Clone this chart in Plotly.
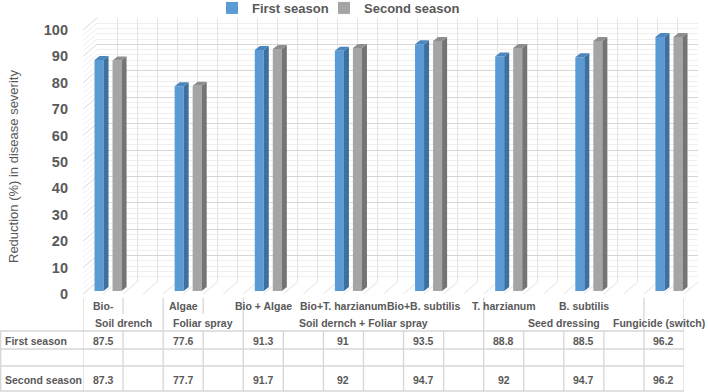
import plotly.graph_objects as go

# ---------------- data ----------------
level1 = ["Bio-", "", "Algae", "", "Bio + Algae", "", "Bio+T. harzianum", "",
          "Bio+B. subtilis", "", "T. harzianum", "", "B. subtilis", "", ""]
group_names = ["Soil drench", "Foliar spray", "Soil dernch + Foliar spray",
               "Seed dressing", "Fungicide (switch)"]
group_start = [0, 2, 4, 10, 14]
group_end = [1, 3, 9, 13, 14]
first_season = [87.5, None, 77.6, None, 91.3, None, 91, None, 93.5, None,
                88.8, None, 88.5, None, 96.2]
second_season = [87.3, None, 77.7, None, 91.7, None, 92, None, 94.7, None,
                 92, None, 94.7, None, 96.2]
series_names = ["First season", "Second season"]
y_ticks = list(range(0, 101, 10))

# ---------------- geometry helpers ----------------
W, H = 708, 392
def X(px):
    return px / W
def Y(py):
    return 1 - py / H

idx = list(range(len(level1)))
TXT = "#595959"
FONT = "Liberation Sans, Arial, sans-serif"

front_col = ["#5B9BD5", "#A5A5A5"]
side_col = ["#3E6F9D", "#747474"]
top_col = ["#4B86BE", "#8E8E8E"]
offsets = [-0.3375, 0.1125]
bw = 0.225
dx = 5 / 40.0
dy = 4 / 2.64
legend_ids = ["legend", "legend2"]

fig = go.Figure()

# back wall subplot (x / y) -- only grid
fig.add_trace(go.Scatter(x=[None], y=[None], xaxis="x", yaxis="y",
                         showlegend=False, hoverinfo="skip"))

# bars (x2 / y2)
for s, vals in enumerate([first_season, second_season]):
    fig.add_trace(go.Bar(
        x=idx, y=vals, width=bw, offset=offsets[s], name=series_names[s],
        marker=dict(color=front_col[s], line=dict(width=0)),
        xaxis="x2", yaxis="y2", legend=legend_ids[s]))
    sx, sy, tx, ty = [], [], [], []
    for i, v in zip(idx, vals):
        if v is None:
            continue
        xl = i + offsets[s]
        xr = xl + bw
        sx += [xr, xr + dx, xr + dx, xr, xr, None]
        sy += [0, dy, v + dy, v, 0, None]
        tx += [xl, xl + dx, xr + dx, xr, xl, None]
        ty += [v, v + dy, v + dy, v, v, None]
    fig.add_trace(go.Scatter(x=sx, y=sy, fill="toself", fillcolor=side_col[s],
                             mode="lines", line=dict(width=0, color=side_col[s]),
                             xaxis="x2", yaxis="y2", showlegend=False, hoverinfo="skip"))
    fig.add_trace(go.Scatter(x=tx, y=ty, fill="toself", fillcolor=top_col[s],
                             mode="lines", line=dict(width=0, color=top_col[s]),
                             xaxis="x2", yaxis="y2", showlegend=False, hoverinfo="skip"))

# table / tick-label subplot (x3 / y3)
fig.add_trace(go.Scatter(x=[None], y=[None], xaxis="x3", yaxis="y3",
                         showlegend=False, hoverinfo="skip"))

shapes = []
# left wall diagonals and floor diagonals (decoration)
for v in range(0, 101, 2):
    major = v % 10 == 0
    shapes.append(dict(type="line", xref="paper", yref="paper",
                       x0=X(83), y0=Y(294 - v * 2.64), x1=X(97), y1=Y(282 - v * 2.64),
                       line=dict(color="#d9d9d9" if major else "#efefef", width=1),
                       layer="below"))
for k in range(31):
    xb = 97 + 20.03 * k
    shapes.append(dict(type="line", xref="paper", yref="paper",
                       x0=X(xb), y0=Y(282), x1=X(xb - 14), y1=Y(294),
                       line=dict(color="#e3e3e3", width=1), layer="below"))

# table lines
LC = "#d6d6d6"
for py in [331, 349, 366, 391]:
    shapes.append(dict(type="line", xref="paper", yref="paper",
                       x0=0, x1=X(684), y0=Y(py), y1=Y(py),
                       line=dict(color=LC, width=1.3)))
shapes.append(dict(type="line", xref="paper", yref="paper",
                   x0=X(0.7), x1=X(0.7), y0=Y(331), y1=Y(391),
                   line=dict(color=LC, width=1.3)))
for i in range(len(level1) + 1):
    shapes.append(dict(type="line", xref="x3", yref="paper",
                       x0=i - 0.5, x1=i - 0.5, y0=Y(331), y1=Y(391),
                       line=dict(color=LC, width=1.3)))
# axis label separators
full_sep = sorted(set([s - 0.5 for s in group_start] + [group_end[-1] + 0.5]))
for xs in full_sep:
    shapes.append(dict(type="line", xref="x3", yref="paper",
                       x0=xs, x1=xs, y0=Y(298), y1=Y(331),
                       line=dict(color=LC, width=1.3)))
for s0, e0 in zip(group_start, group_end):
    if e0 - s0 == 1:
        shapes.append(dict(type="line", xref="x3", yref="paper",
                           x0=s0 + 0.5, x1=s0 + 0.5, y0=Y(298), y1=Y(314),
                           line=dict(color=LC, width=1.3)))

ann = []
f_small = dict(family=FONT, size=10.5, color=TXT, weight="bold")
for i, lab in zip(idx, level1):
    if lab:
        ann.append(dict(x=i, y=Y(306), xref="x3", yref="paper", text=lab,
                        showarrow=False, font=f_small, xanchor="center", yanchor="middle"))
for name, s0, e0 in zip(group_names, group_start, group_end):
    if e0 == len(level1) - 1:
        ann.append(dict(x=X(707), y=Y(323), xref="paper", yref="paper", text=name,
                        showarrow=False, font=f_small, xanchor="right", yanchor="middle"))
    else:
        ann.append(dict(x=(s0 + e0) / 2, y=Y(323), xref="x3", yref="paper", text=name,
                        showarrow=False, font=f_small, xanchor="center", yanchor="middle"))
row_y = [340.5, 379.5]
for s, vals in enumerate([first_season, second_season]):
    ann.append(dict(x=X(3), y=Y(row_y[s]), xref="paper", yref="paper",
                    text=series_names[s], showarrow=False, font=f_small,
                    xanchor="left", yanchor="middle"))
    for i, v in zip(idx, vals):
        if v is None:
            continue
        ann.append(dict(x=i, y=Y(row_y[s]), xref="x3", yref="paper", text=f"{v:g}",
                        showarrow=False, font=f_small, xanchor="center", yanchor="middle"))
ann.append(dict(x=X(14), y=Y(167), xref="paper", yref="paper",
                text="Reduction (%) in disease severity", textangle=-90,
                showarrow=False, font=dict(family=FONT, size=13, color=TXT),
                xanchor="center", yanchor="middle"))

leg_font = dict(family=FONT, size=13, color=TXT, weight="bold")
fig.update_layout(
    width=W, height=H, autosize=False,
    margin=dict(l=0, r=0, t=0, b=0, autoexpand=False),
    paper_bgcolor="white", plot_bgcolor="rgba(0,0,0,0)",
    barmode="overlay",
    showlegend=True,
    legend=dict(orientation="h", x=X(212), xanchor="left", y=Y(8), yanchor="middle",
                font=leg_font, bgcolor="rgba(0,0,0,0)", itemwidth=30),
    legend2=dict(orientation="h", x=X(324), xanchor="left", y=Y(8), yanchor="middle",
                 font=leg_font, bgcolor="rgba(0,0,0,0)", itemwidth=30),
    xaxis=dict(domain=[X(97), X(698)], range=[-0.5, 14.5], anchor="y",
               showgrid=True, dtick=0.5, tick0=-0.5, gridcolor="#e3e3e3", gridwidth=1,
               showticklabels=False, zeroline=False, showline=False, ticks=""),
    yaxis=dict(domain=[Y(282), Y(18)], range=[0, 100], anchor="x",
               showgrid=True, dtick=10, gridcolor="#d6d6d6", gridwidth=1,
               minor=dict(dtick=2, showgrid=True, gridcolor="#efefef", gridwidth=1),
               showticklabels=False, zeroline=False, showline=False, ticks=""),
    xaxis2=dict(domain=[X(88), X(689)], range=[-0.5, 14.5], anchor="y2", visible=False),
    yaxis2=dict(domain=[Y(291), Y(27)], range=[0, 100], anchor="x2", visible=False),
    xaxis3=dict(domain=[X(83), X(684)], range=[-0.5, 14.5], anchor="y3", visible=False),
    yaxis3=dict(domain=[Y(294), Y(30)], range=[0, 100], anchor="x3",
                tickvals=y_ticks, showgrid=False, zeroline=False, showline=False,
                ticks="", ticklabelstandoff=14,
                tickfont=dict(family=FONT, size=14.5, color=TXT, weight="bold")),
    shapes=shapes,
    annotations=ann,
)

fig.write_html("out.html")
